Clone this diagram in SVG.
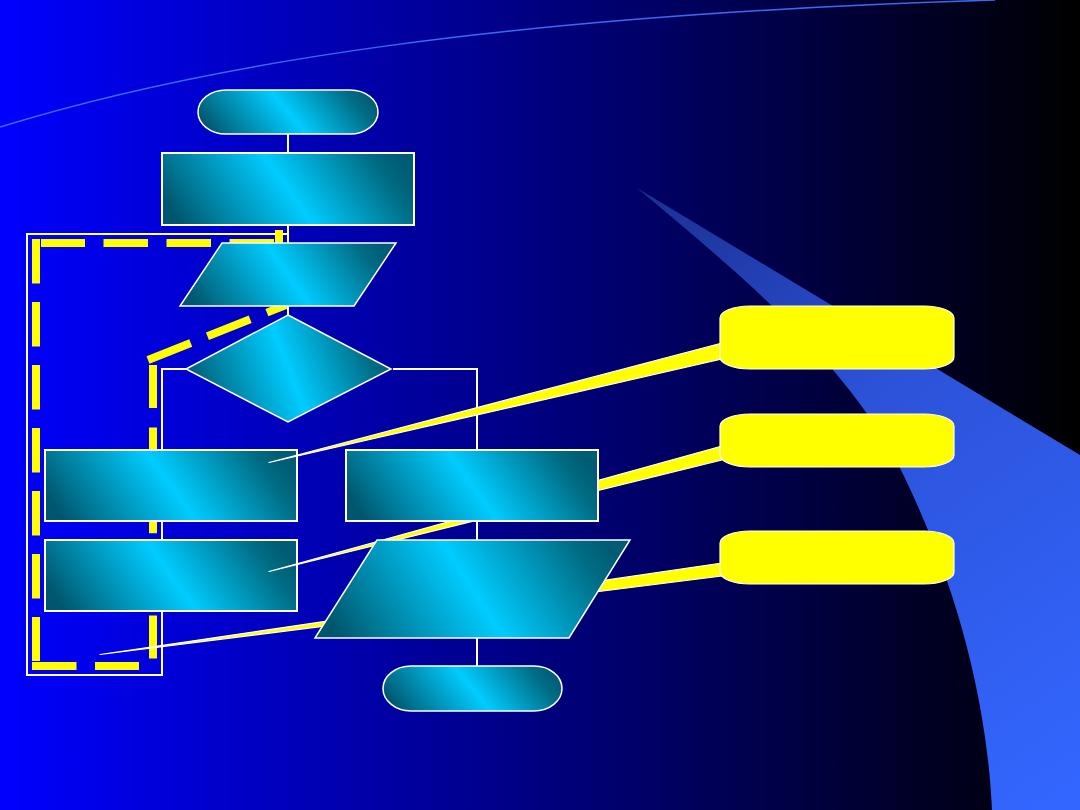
<svg xmlns="http://www.w3.org/2000/svg" width="1080" height="810" viewBox="0 0 1080 810">
  <defs>
    <linearGradient id="bg" x1="0" y1="0" x2="1" y2="0">
      <stop offset="0" stop-color="#0000ff"/>
      <stop offset="1" stop-color="#000000"/>
    </linearGradient>
    <linearGradient id="swoosh" gradientUnits="userSpaceOnUse" x1="637" y1="188" x2="1060" y2="800">
      <stop offset="0" stop-color="#1a2f90"/>
      <stop offset="0.4" stop-color="#2c52d8"/>
      <stop offset="1" stop-color="#3366ff"/>
    </linearGradient>
    <linearGradient id="cy" x1="0" y1="0.6" x2="1" y2="0.4">
      <stop offset="0" stop-color="#00566e"/>
      <stop offset="0.12" stop-color="#007592"/>
      <stop offset="0.5" stop-color="#00ccff"/>
      <stop offset="0.9" stop-color="#006c84"/>
      <stop offset="1" stop-color="#005c74"/>
    </linearGradient>
    <style>
      .shape { fill: url(#cy); stroke: #ffffff; stroke-width: 2; }
      .conn { fill: none; stroke: #ffffff; stroke-width: 2; }
      .dash { fill: none; stroke: #ffff00; stroke-width: 8; stroke-dasharray: 44.5 18.5; }
      .tail { fill: #ffff00; stroke: #ffffff; stroke-width: 1.2; stroke-linejoin: round; }
      .callout { fill: #ffff00; stroke: #ffffff; stroke-width: 1.2; }
    </style>
  </defs>

  <!-- background -->
  <rect x="0" y="0" width="1080" height="810" fill="url(#bg)"/>
  <path d="M637,188 L1080,455 L1080,810 L992,810 C988,720 965,600 900,468 C850,370 760,290 637,188 Z" fill="url(#swoosh)"/>
  <path d="M0,127 C200,65 500,15 995,0" fill="none" stroke="#3a6cf0" stroke-width="1.5"/>

  <!-- connectors -->
  <g id="connectors">
    <path class="conn" d="M288,134 V153"/>
    <path class="conn" d="M288,225 V243"/>
    <path class="conn" d="M288,306 V315"/>
    <path class="conn" d="M288,234 H27 V675 H162 V369 H186"/>
    <path class="conn" d="M393,369 H477 V450"/>
    <path class="conn" d="M477,521 V540"/>
    <path class="conn" d="M477,638 V666"/>
  </g>

  <!-- yellow dashed loop -->
  <g id="loop-dash">
    <line class="dash" x1="274" y1="243" x2="41" y2="243"/>
    <rect x="275" y="230" width="8" height="17" fill="#ffff00"/>
    <line class="dash" x1="36" y1="239" x2="36" y2="661"/>
    <line class="dash" x1="32" y1="666" x2="139" y2="666"/>
    <line class="dash" x1="153" y1="365" x2="153" y2="661" style="stroke-dasharray:43 19.6"/>
    <line class="dash" x1="148" y1="360" x2="286" y2="305" style="stroke-dasharray:46 18"/>
  </g>

  <!-- left-side nodes -->
  <g id="start"><rect class="shape" x="198" y="90" width="180" height="44" rx="28" ry="22" style="stroke-width:1.5"/></g>
  <g id="process1"><rect class="shape" x="162" y="153" width="252" height="72"/></g>
  <g id="input1"><polygon class="shape" points="222,243 396,243 354,306 180,306" style="stroke-width:1.5"/></g>
  <g id="decision"><polygon class="shape" points="288,315 391,369 288,422 186,369" style="stroke-width:1.5"/></g>
  <g id="processA"><rect class="shape" x="45" y="450" width="252" height="71"/></g>
  <g id="processB"><rect class="shape" x="45" y="540" width="252" height="71"/></g>

  <!-- callout tails -->
  <g id="callout-tails">
    <polygon class="tail" points="722,343 722,359 269,462.5"/>
    <polygon class="tail" points="722,446 722,460 269,571.5"/>
    <polygon class="tail" points="722,563 722,576 100,654.5"/>
  </g>

  <!-- right-side nodes -->
  <g id="processC"><rect class="shape" x="346" y="450" width="252" height="71"/></g>
  <g id="output"><polygon class="shape" points="377,540 630,540 569,638 315,638" style="stroke-width:1.5"/></g>
  <g id="end"><rect class="shape" x="383" y="666" width="179" height="45" rx="28" ry="22.5" style="stroke-width:1.5"/></g>

  <!-- callout boxes -->
  <g id="callout1"><rect class="callout" x="720" y="306" width="234" height="63" rx="30" ry="12"/></g>
  <g id="callout2"><rect class="callout" x="720" y="414" width="234" height="53" rx="30" ry="12"/></g>
  <g id="callout3"><rect class="callout" x="720" y="531" width="234" height="53" rx="30" ry="12"/></g>
</svg>
